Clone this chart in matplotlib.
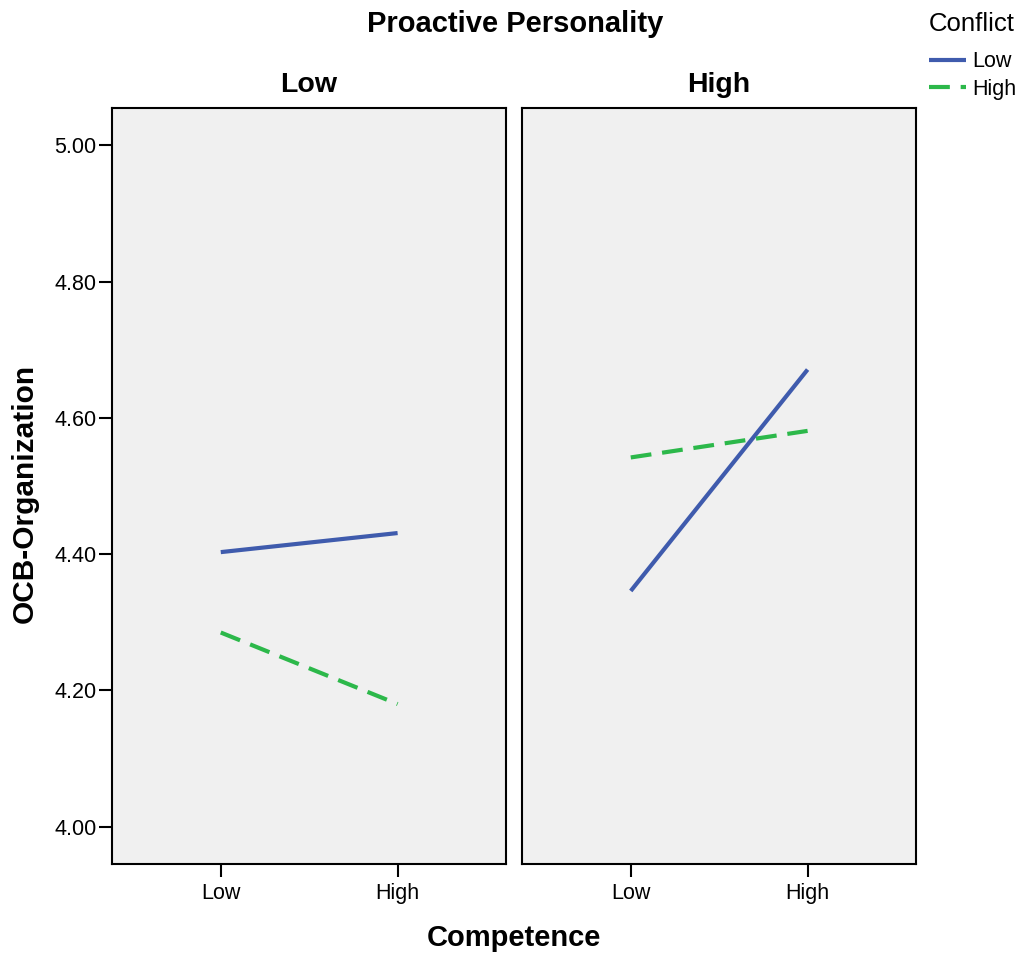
import matplotlib.pyplot as plt
from matplotlib.ticker import FormatStrFormatter

plt.rcParams["font.family"] = ["Liberation Sans", "DejaVu Sans"]

BLUE = "#3F5BAD"
GREEN = "#2CB84A"
PANEL_BG = "#F0F0F0"

competence = ["Low", "High"]
panels = ["Low", "High"]  # Proactive Personality
conflict_low = {"Low": [4.403, 4.431], "High": [4.346, 4.671]}
conflict_high = {"Low": [4.285, 4.180], "High": [4.542, 4.581]}
y_ticks = [4.00, 4.20, 4.40, 4.60, 4.80, 5.00]

fig = plt.figure(figsize=(10.18, 9.58), dpi=100)
ax_w, ax_h, ax_b = 394 / 1018, 0.789, 0.098
axes = [fig.add_axes([112 / 1018, ax_b, ax_w, ax_h]),
        fig.add_axes([522 / 1018, ax_b, ax_w, ax_h])]

x = list(range(len(competence)))
for ax, panel in zip(axes, panels):
    ax.set_facecolor(PANEL_BG)
    l1, = ax.plot(x, conflict_low[panel], color=BLUE, linewidth=3.0,
                  solid_capstyle="butt", label="Low")
    l2, = ax.plot(x, conflict_high[panel], color=GREEN, linewidth=3.0,
                  dashes=(5, 2.6), dash_capstyle="butt", label="High")
    ax.set_xlim(-0.615, 1.613)
    ax.set_ylim(3.945, 5.0546)
    ax.set_xticks(x)
    ax.set_xticklabels(competence)
    ax.set_yticks(y_ticks)
    ax.yaxis.set_major_formatter(FormatStrFormatter("%.2f"))
    ax.tick_params(direction="out", length=9.5, width=1.5, labelsize=15.5)
    ax.tick_params(axis="x", pad=4)
    ax.tick_params(axis="y", pad=1.5)
    for s in ax.spines.values():
        s.set_linewidth(1.5)
    ax.set_title(panel, fontsize=20.5, fontweight="bold", pad=12)

axes[1].tick_params(axis="y", left=False, labelleft=False)
axes[0].set_ylabel("OCB-Organization", fontsize=21.5, fontweight="bold",
                   labelpad=11.5, y=0.491)

fig.text(0.506, 1 - 32 / 958, "Proactive Personality", ha="center",
         va="baseline", fontsize=21, fontweight="bold")
fig.text(0.505, 0.021, "Competence", ha="center", va="center",
         fontsize=21, fontweight="bold")

leg = fig.legend(handles=[l1, l2], title="Conflict", loc="upper left",
                 bbox_to_anchor=(929 / 1018, 1 - 12 / 958), frameon=False,
                 fontsize=15.5, title_fontsize=18.5, handlelength=1.7,
                 handletextpad=0.3, labelspacing=0.3, borderpad=0,
                 borderaxespad=0)
leg._legend_box.align = "left"
leg._legend_box.sep = 11

fig.savefig("out.png", dpi=100)
